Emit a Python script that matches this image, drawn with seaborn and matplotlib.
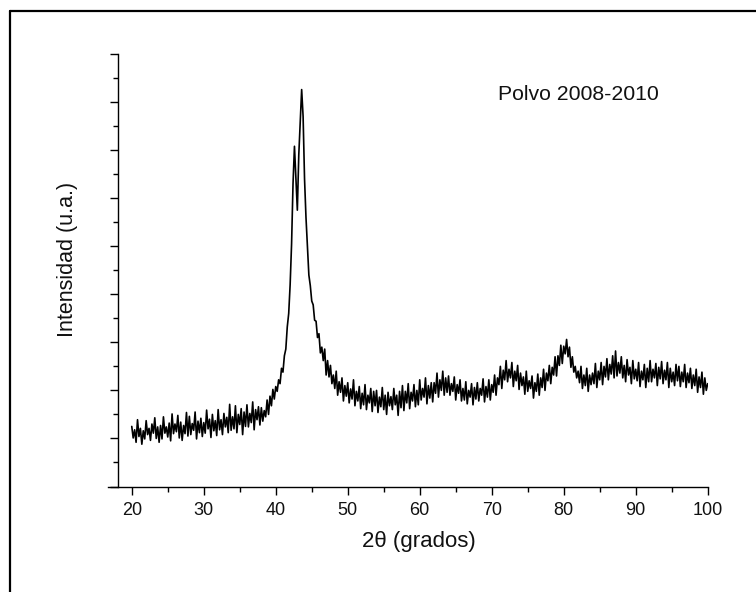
import numpy as np
import pandas as pd
import matplotlib
matplotlib.use("Agg")
import matplotlib.pyplot as plt
from matplotlib.lines import Line2D
from matplotlib.ticker import MultipleLocator, NullFormatter
import seaborn as sns

# ---------------- data ----------------
two_theta_start = 20.0      # degrees
two_theta_step = 0.2        # degrees per sample
intensity = [
    125, 101, 118, 92, 139, 104, 121, 88, 116, 99,       # 20-21.8
    137, 108, 121, 96, 130, 111, 143, 100, 124, 92,      # 22
    127, 99, 145, 111, 124, 103, 132, 95, 151, 110,      # 24
    130, 114, 148, 101, 134, 96, 127, 110, 154, 105,     # 26
    146, 108, 131, 117, 155, 99, 136, 112, 142, 104,     # 28
    133, 111, 159, 120, 140, 102, 150, 116, 137, 106,    # 30
    160, 118, 139, 108, 152, 124, 144, 112, 171, 117,    # 32
    145, 120, 168, 112, 150, 129, 162, 108, 155, 125,    # 34
    170, 124, 152, 133, 176, 118, 160, 139, 166, 128,    # 36
    164, 136, 158, 145, 180, 150, 188, 168, 202, 182,    # 38
    208, 198, 222, 214, 246, 238, 272, 286, 332, 360,    # 40
    420, 505, 630, 708, 640, 575, 690, 760, 826, 770,    # 42
    640, 560, 500, 440, 418, 386, 378, 346, 344, 310,    # 44
    318, 278, 290, 262, 286, 232, 262, 228, 252, 214,    # 46
    232, 204, 240, 190, 218, 196, 226, 178, 210, 188,    # 48
    216, 174, 203, 182, 222, 168, 198, 178, 208, 162,    # 50
    194, 170, 212, 160, 190, 174, 204, 156, 198, 168,    # 52
    200, 154, 186, 166, 206, 160, 190, 150, 196, 168,    # 54
    187, 160, 204, 170, 190, 148, 198, 164, 210, 158,    # 56
    198, 174, 214, 162, 196, 178, 212, 166, 200, 170,    # 58
    222, 180, 204, 186, 226, 172, 210, 184, 216, 176,    # 60
    216, 194, 236, 186, 222, 200, 240, 190, 226, 196,    # 62
    230, 190, 214, 198, 228, 180, 212, 194, 222, 178,    # 64
    204, 180, 218, 172, 200, 186, 214, 170, 206, 182,    # 66
    216, 178, 204, 190, 224, 176, 208, 186, 222, 180,    # 68
    212, 196, 232, 190, 226, 212, 250, 204, 242, 222,    # 70
    262, 218, 244, 226, 258, 208, 240, 220, 252, 202,    # 72
    236, 210, 228, 192, 240, 198, 220, 204, 230, 184,    # 74
    216, 198, 234, 190, 226, 206, 244, 200, 236, 220,    # 76
    252, 214, 248, 232, 270, 230, 272, 252, 294, 256,    # 78
    292, 276, 306, 270, 290, 248, 270, 238, 250, 226,    # 80
    240, 216, 250, 204, 232, 210, 246, 198, 232, 212,    # 82
    236, 214, 256, 206, 240, 222, 258, 212, 250, 228,    # 84
    266, 222, 254, 234, 272, 226, 282, 230, 258, 236,    # 86
    270, 226, 252, 218, 264, 232, 248, 214, 262, 224,    # 88
    244, 220, 258, 208, 240, 222, 254, 206, 246, 218,    # 90
    262, 218, 244, 226, 256, 210, 248, 224, 260, 214,    # 92
    242, 222, 258, 206, 246, 218, 238, 210, 254, 220,    # 94
    250, 208, 238, 218, 254, 206, 236, 216, 246, 204,    # 96
    232, 210, 244, 196, 228, 206, 238, 192, 226, 200,    # 98
    214,                                                  # 100
]
x_tick_labels = ["20", "30", "40", "50", "60", "70", "80", "90", "100"]
x_label = "2θ (grados)"
y_label = "Intensidad (u.a.)"
sample_label = "Polvo 2008-2010"

two_theta = two_theta_start + two_theta_step * np.arange(len(intensity))
df = pd.DataFrame({"two_theta": two_theta, "intensity": intensity})

# ---------------- figure ----------------
sns.set_style("ticks")
plt.rcParams["font.family"] = ["Liberation Sans", "DejaVu Sans"]

W, H = 756, 592
fig = plt.figure(figsize=(W / 100, H / 100), dpi=100)

def fx(px):
    return px / W

def fy(py):
    return 1 - py / H

ax_left, ax_right = 108, 707.7
ax_top, ax_bottom = 54, 486.5
ax = fig.add_axes([fx(ax_left), fy(ax_bottom), (ax_right - ax_left) / W, (ax_bottom - ax_top) / H])

sns.lineplot(data=df, x="two_theta", y="intensity", color="black", linewidth=1.2,
             estimator=None, sort=True, ax=ax)

ax.set_xlim(16.7, 100)
ax.set_ylim(0, 900)

for s in ["top", "right"]:
    ax.spines[s].set_visible(False)
ax.spines["left"].set_position(("data", 18.1))
for s in ["left", "bottom"]:
    ax.spines[s].set_linewidth(1.0)
    ax.spines[s].set_color("black")

ax.set_xticks([int(t) for t in x_tick_labels])
ax.set_xticklabels(x_tick_labels)
ax.xaxis.set_minor_locator(MultipleLocator(5))
ax.yaxis.set_major_locator(MultipleLocator(100))
ax.yaxis.set_minor_locator(MultipleLocator(50))
ax.yaxis.set_major_formatter(NullFormatter())

ax.tick_params(axis="both", which="major", direction="out", length=6, width=1.0,
               color="black", labelsize=13, labelcolor="#111111", pad=5)
ax.tick_params(axis="both", which="minor", direction="out", length=3.6, width=1.0, color="black")
ax.set_xlabel("")
ax.set_ylabel("")

fig.text(fx(419), fy(541), x_label, ha="center", va="center", fontsize=16, color="#111111")
fig.text(fx(68), fy(259), y_label, ha="center", va="center", rotation=90, fontsize=15.5, color="#111111")
fig.text(fx(498), fy(100), sample_label, ha="left", va="baseline", fontsize=15.3, color="#111111")

# outer frame (only top and left edges visible in the reference)
fig.add_artist(Line2D([fx(10), fx(760)], [fy(10.5), fy(10.5)], color="black", linewidth=1.6,
                      transform=fig.transFigure))
fig.add_artist(Line2D([fx(10), fx(10)], [fy(10.5), fy(600)], color="black", linewidth=1.6,
                      transform=fig.transFigure))

fig.savefig("out.png", dpi=100)
